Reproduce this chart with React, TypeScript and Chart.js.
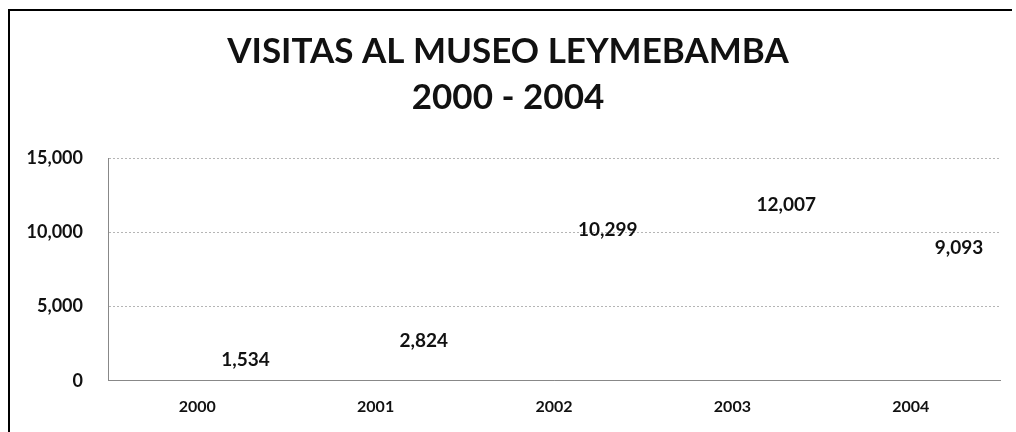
import React, { useEffect, useRef } from "react";
import { Chart, registerables } from "chart.js";

Chart.register(...registerables);

const titleLines = ["VISITAS AL MUSEO LEYMEBAMBA", "2000 - 2004"];
const years = ["2000", "2001", "2002", "2003", "2004"];
const visits = [1534, 2824, 10299, 12007, 9093];
const yTicks = [0, 5000, 10000, 15000];

const FONT = "Lato, 'Open Sans', sans-serif";
const fmt = (v: number) => v.toLocaleString("en-US");

const titlePlugin = {
  id: "twoLineTitle",
  afterDraw(chart: any) {
    const ctx = chart.ctx;
    ctx.save();
    ctx.fillStyle = "#111";
    ctx.textAlign = "center";
    ctx.textBaseline = "middle";
    ctx.font = `bold 35px ${FONT}`;
    const cx = chart.width / 2 - 3;
    ctx.fillText(titleLines[0], cx, 41);
    ctx.fillText(titleLines[1], cx, 87);
    ctx.restore();
  },
};

const labelPlugin = {
  id: "valueLabels",
  afterDatasetsDraw(chart: any) {
    const ctx = chart.ctx;
    const meta = chart.getDatasetMeta(0);
    ctx.save();
    ctx.fillStyle = "#111";
    ctx.textAlign = "left";
    ctx.textBaseline = "middle";
    ctx.font = `bold 19px ${FONT}`;
    meta.data.forEach((pt: any, i: number) => {
      ctx.fillText(fmt(visits[i]), pt.x + 24, pt.y + 2);
    });
    ctx.restore();
  },
};

export default function App() {
  const ref = useRef<HTMLCanvasElement | null>(null);
  useEffect(() => {
    if (!ref.current) return;
    const chart = new Chart(ref.current, {
      type: "line",
      data: {
        labels: years,
        datasets: [
          {
            data: visits,
            borderColor: "transparent",
            backgroundColor: "transparent",
            pointRadius: 0,
            showLine: false,
          },
        ],
      },
      options: {
        animation: false,
        responsive: false,
        events: [],
        layout: { padding: { top: 147, right: 12, bottom: 0, left: 0 } },
        plugins: { legend: { display: false }, tooltip: { enabled: false }, title: { display: false } },
        scales: {
          x: {
            type: "category",
            offset: true,
            grid: { display: false, drawTicks: false },
            border: { display: true, color: "#888", dash: [2, 2], width: 1 },
            ticks: { color: "#111", font: { family: FONT, size: 16, weight: "bold" }, padding: 16 },
          },
          y: {
            min: 0,
            max: 15000,
            afterBuildTicks: (axis: any) => {
              axis.ticks = yTicks.map((v) => ({ value: v }));
            },
            afterFit: (axis: any) => {
              axis.width = 98;
            },
            grid: { color: "#b5b5b5", lineWidth: 1, drawTicks: false },
            border: { display: true, color: "#888", dash: [2, 2], width: 1 },
            ticks: {
              color: "#111",
              font: { family: FONT, size: 18, weight: "bold" },
              padding: 25,
              callback: (v: any) => fmt(Number(v)),
            },
          },
        },
      },
      plugins: [titlePlugin, labelPlugin],
    });
    return () => chart.destroy();
  }, []);
  return (
    <div
      style={{
        position: "absolute",
        left: 8,
        top: 9,
        borderTop: "2px solid #000",
        borderLeft: "2px solid #000",
        width: 1002,
        height: 421,
      }}
    >
      <canvas ref={ref} width={1002} height={421} style={{ display: "block" }} />
    </div>
  );
}
